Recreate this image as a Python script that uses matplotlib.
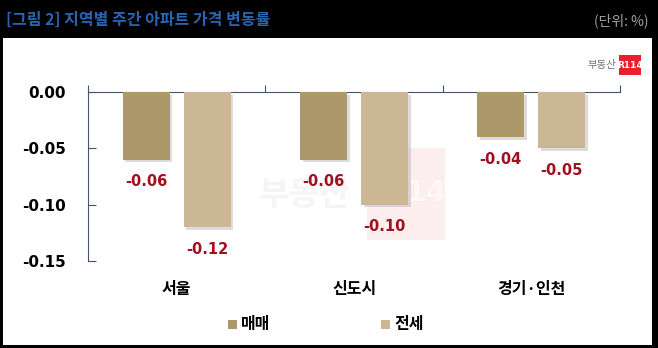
import matplotlib.pyplot as plt
import matplotlib.patheffects as pe
from matplotlib.patches import Rectangle
import numpy as np

plt.rcParams['font.family'] = ['Noto Sans CJK KR', 'DejaVu Sans']

regions = ['서울', '신도시', '경기·인천']
sale = [-0.06, -0.06, -0.04]      # 매매
jeonse = [-0.12, -0.10, -0.05]    # 전세
series_names = ['매매', '전세']
colors = ['#ad9869', '#cbb794']
yticks = [0.00, -0.05, -0.10, -0.15]

fig = plt.figure(figsize=(6.58, 3.48), dpi=100)
fig.patch.set_facecolor('black')
W, H = 658, 348

# white panel
fig.patches.append(Rectangle((3 / W, 1 - 345 / H), 649 / W, 307 / H,
                             transform=fig.transFigure, facecolor='white',
                             edgecolor='none', zorder=-2))

# faint watermark behind the axes
fig.text(305 / W, 1 - 196 / H, '부동산', fontsize=24, color='#f5f5f5', ha='center',
         va='center', fontweight='bold', zorder=-1)
fig.patches.append(Rectangle((367 / W, 1 - 240 / H), 78 / W, 92 / H, transform=fig.transFigure,
                             facecolor='#fcedee', edgecolor='none', zorder=-1))
fig.text(406 / W, 1 - 193 / H, 'R114', fontsize=20, color='#fdf7f7', ha='center',
         va='center', fontweight='bold', zorder=-0.5, family=['DejaVu Sans'])

fig.text(6 / W, 1 - 20 / H, '[그림 2] 지역별 주간 아파트 가격 변동률', color='#2a64b0',
         fontsize=11.5, fontweight='bold', va='center', ha='left')
fig.text(648 / W, 1 - 21 / H, '(단위: %)', color='#a0a0a0', fontsize=10,
         va='center', ha='right')

ax = fig.add_axes([88 / W, 1 - 261 / H, 532 / W, 169 / H])
ax.set_facecolor('none')

x = np.arange(len(regions))
off, w = 0.172, 0.265
shadow = [pe.SimplePatchShadow(offset=(2, -2), shadow_rgbFace='#a8a8a8', alpha=0.4), pe.Normal()]
b1 = ax.bar(x - off, sale, w, color=colors[0], zorder=3)
b2 = ax.bar(x + off, jeonse, w, color=colors[1], zorder=3)
for b in list(b1) + list(b2):
    b.set_path_effects(shadow)

for xs, vals in ((x - off, sale), (x + off, jeonse)):
    for xi, v in zip(xs, vals):
        ax.annotate(f'{v:.2f}', (xi, v), xytext=(0, -16), textcoords='offset points',
                    ha='center', va='center', color='#a0101e', fontsize=10.5,
                    fontweight='bold', family=['DejaVu Sans'], zorder=5)

ax.set_xlim(-0.5, 2.5)
ax.set_ylim(-0.15, 0.0)
ax.set_yticks(yticks)
ax.set_yticklabels([f'{t:.2f}' for t in yticks], fontsize=11, fontweight='bold',
                   family=['DejaVu Sans'])
ax.tick_params(axis='y', direction='in', length=6, pad=16, color='#44546a')

ax.xaxis.tick_top()
ax.set_xticks([-0.5, 0.5, 1.5, 2.5])
ax.set_xticklabels([])
ax.tick_params(axis='x', direction='out', length=5, color='#44546a')
for s in ('right', 'bottom'):
    ax.spines[s].set_visible(False)
ax.spines['top'].set_color('#44546a')
ax.spines['left'].set_color('#44546a')

for xi, name in zip(x, regions):
    ax.text(xi, -0.175, name, ha='center', va='center', fontsize=11.5,
            fontweight='bold', transform=ax.transData, clip_on=False)

# legend
for lx, name, c in ((228, series_names[0], colors[0]), (381, series_names[1], colors[1])):
    fig.patches.append(Rectangle((lx / W, 1 - 329 / H), 9 / W, 9 / H, transform=fig.transFigure,
                                 facecolor=c, edgecolor='none', zorder=2))
    fig.text((lx + 13) / W, 1 - 324 / H, name, fontsize=11.5, fontweight='bold',
             va='center', ha='left')

# logo
fig.text(616 / W, 1 - 65 / H, '부동산', fontsize=7.5, color='#707070', ha='right', va='center')
fig.patches.append(Rectangle((619 / W, 1 - 75 / H), 22 / W, 20 / H, transform=fig.transFigure,
                             facecolor='#e8202a', edgecolor='none', zorder=2))
fig.text(630 / W, 1 - 65 / H, 'R114', fontsize=6.5, color='white', ha='center', va='center',
         fontweight='bold', family=['DejaVu Sans'])

fig.savefig('out.png', dpi=100, facecolor=fig.get_facecolor())
